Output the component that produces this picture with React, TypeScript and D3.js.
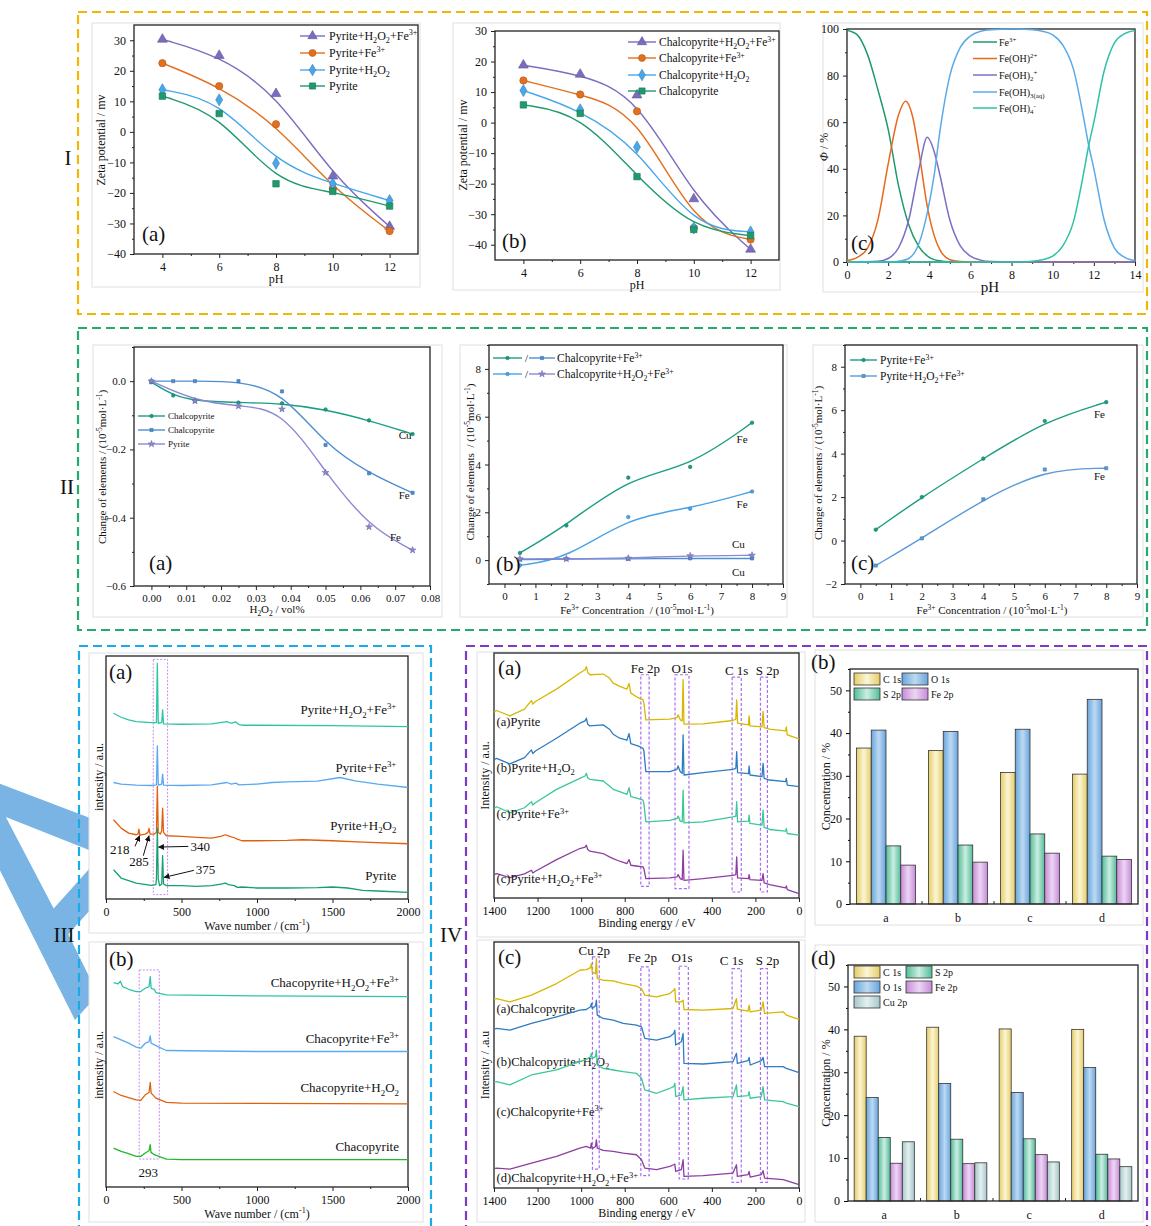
import React, { useEffect, useRef } from 'react';
import * as d3 from 'd3';

type Pt = [number, number];
const SERIF = "'Liberation Serif','Times New Roman',serif";

// ---------- I(a) / I(b): zeta potential vs pH
const phZeta = [4, 6, 8, 10, 12];
const zetaPyH2O2Fe = [30.3, 25, 12.5, -14.5, -31];
const zetaPyFe = [22.5, 15, 2.5, -18.5, -32.5];
const zetaPyH2O2 = [13.8, 10.5, -10.3, -17, -22.5];
const zetaPy = [11.7, 6, -17, -19.5, -24.3];
const zetaCpH2O2Fe = [18.8, 15.8, 9, -25, -41.5];
const zetaCpFe = [13.8, 9.2, 3.7, -34.5, -38.3];
const zetaCpH2O2 = [10.5, 4.2, -8, -34.5, -35.8];
const zetaCp = [5.8, 3, -17.7, -35, -37];

// ---------- I(c): Fe(III) speciation (%)
const specFe3: Pt[] = [[0,99.5],[0.5,97.5],[1,89],[1.5,74],[2,57],[2.5,33],[3,16],[3.5,6.5],[4,2],[4.5,0.5],[5,0.1],[6,0],[14,0]];
const specFeOH: Pt[] = [[0,0.6],[0.5,2],[1,6],[1.5,18],[2,42],[2.5,63],[2.85,69],[3.2,62],[3.5,47],[3.9,24],[4.25,11],[4.5,5.5],[5,1],[5.5,0.2],[6,0],[14,0]];
const specFeOH2: Pt[] = [[0,0],[1.5,0.3],[2,1.5],[2.5,6],[3,18],[3.5,40],[3.9,53.5],[4.25,47],[4.5,38],[5,18],[5.5,7],[6,2.5],[6.5,0.8],[7,0.2],[8,0],[14,0]];
const specFeOH3: Pt[] = [[0,0],[2,0],[2.5,0.3],[3,1.5],[3.5,8],[3.9,21],[4.25,38],[4.5,55],[5,80],[5.5,92],[6,97],[6.5,99],[7,99.7],[8,100],[9,99.7],[9.5,99],[10,97.5],[10.5,93],[11,83],[11.5,62],[11.75,50],[12,40],[12.5,18],[13,6],[13.5,2],[14,0.6]];
const specFeOH4: Pt[] = [[0,0],[8.5,0],[9,0.3],[9.5,1],[10,2.5],[10.5,7],[11,17],[11.5,38],[11.75,50],[12,60],[12.5,82],[13,94],[13.5,98],[14,99.4]];

// ---------- II(a): change of elements vs H2O2 dose
const h2o2Dose = [0, 0.00625, 0.0125, 0.025, 0.0375, 0.05, 0.0625, 0.075];
const cpCuH2O2 = [-0.003, -0.042, -0.058, -0.063, -0.065, -0.083, -0.115, -0.155];
const cpFeH2O2 = [0, 0, 0, 0, -0.03, -0.187, -0.27, -0.327];
const pyDose = [0, 0.0125, 0.025, 0.0375, 0.05, 0.0625, 0.075];
const pyFeH2O2 = [0, -0.058, -0.073, -0.082, -0.268, -0.427, -0.495];

// ---------- II(b), II(c): change of elements vs Fe3+ concentration
const fe3Conc = [0.5, 2, 4, 6, 8];
const cpFeFe = [0.3, 1.45, 3.45, 3.9, 5.75];
const cpFeCu = [0.02, 0.05, 0.05, 0.07, 0.07];
const cpH2O2FeFe = [-0.22, 0.05, 1.8, 2.15, 2.87];
const cpH2O2FeCu = [0.05, 0.05, 0.08, 0.18, 0.2];
const pyFeFe = [0.5, 2.0, 3.77, 5.5, 6.37];
const pyH2O2FeFe = [-1.15, 0.1, 1.9, 3.27, 3.33];

// ---------- III(a): Raman pyrite (wavenumber, counts)
const ramanPy: Pt[] = [[50,88],[100,63],[200,48],[300,41],[330,43],[334,60],[340,213],[346,60],[355,40],[369,45],[375,130],[381,45],[400,40],[500,40],[600,38],[700,40],[760,45],[790,48],[810,43],[850,40],[870,35],[900,36],[1000,33],[1200,33],[1400,34],[1500,36],[1600,33],[1700,26],[1800,24],[2000,20]];
const ramanPyH2O2: Pt[] = [[50,238],[100,213],[150,198],[200,193],[212,195],[218,210],[224,192],[260,195],[278,200],[285,212],[292,195],[320,195],[334,200],[340,338],[346,200],[360,195],[369,205],[375,273],[381,200],[400,190],[500,188],[600,185],[700,183],[760,188],[790,193],[820,188],[850,184],[870,180],[900,175],[1000,175],[1200,176],[1300,178],[1500,175],[1700,171],[2000,166]];
const ramanPyFe: Pt[] = [[50,350],[100,345],[200,342],[300,341],[334,343],[340,460],[346,342],[369,345],[375,375],[381,342],[500,341],[700,343],[800,350],[830,345],[860,348],[880,343],[1000,345],[1100,350],[1200,352],[1400,354],[1550,365],[1650,355],[1800,345],[2000,335]];
const ramanPyH2O2Fe: Pt[] = [[50,558],[100,546],[150,538],[200,533],[300,530],[334,530],[340,708],[346,528],[369,530],[375,568],[381,526],[500,525],[700,526],[800,533],[830,528],[860,532],[880,524],[900,522],[1000,522],[1500,521],[2000,518]];

// ---------- III(b): Raman chalcopyrite
const ramanCp: Pt[] = [[50,117],[100,107],[150,100],[200,92],[230,92],[260,102],[285,109],[293,127],[298,104],[320,97],[350,92],[400,84],[500,82],[1000,82],[2000,82]];
const ramanCpH2O2: Pt[] = [[50,287],[100,275],[200,262],[230,260],[260,277],[285,284],[293,314],[299,282],[330,267],[400,254],[500,252],[2000,250]];
const ramanCpFe: Pt[] = [[50,452],[100,442],[150,432],[200,420],[230,417],[260,432],[285,437],[293,454],[299,432],[350,420],[400,410],[1000,407],[2000,407]];
const ramanCpH2O2Fe: Pt[] = [[50,614],[80,610],[95,618],[110,602],[150,594],[200,587],[230,587],[260,597],[285,602],[293,632],[299,597],[320,594],[330,584],[400,577],[1000,574],[2000,572]];

// ---------- IV(a): XPS survey pyrite (binding energy eV, counts)
const xpsPy: Pt[] = [[1400,556],[1388,561],[1327,545],[1260,565],[1228,591],[1222,580],[1210,588],[1113,625],[1006,673],[982,683],[976,692],[970,676],[960,668],[899,670],[870,658],[853,643],[823,633],[790,625],[780,642],[772,613],[740,600],[716,593],[712,583],[703,533],[593,535],[560,540],[555,548],[545,533],[536,530],[532,653],[528,520],[440,521],[303,531],[290,535],[286,593],[282,523],[232,518],[229,545],[225,515],[170,512],[165,558],[160,510],[135,505],[62,500],[58,512],[54,488],[0,476]];
const xpsPyH2O2: Pt[] = [[1400,413],[1388,418],[1327,401],[1260,420],[1228,443],[1222,432],[1210,440],[1113,478],[1006,523],[982,530],[976,538],[970,520],[960,515],[899,518],[870,505],[853,490],[823,478],[790,472],[780,492],[772,462],[740,455],[716,448],[712,440],[703,378],[593,378],[560,385],[555,395],[545,378],[536,373],[532,488],[528,368],[440,375],[303,385],[290,388],[286,438],[282,375],[232,372],[229,395],[225,368],[170,363],[165,403],[160,358],[135,353],[62,348],[58,358],[54,338],[0,333]];
const xpsPyFe: Pt[] = [[1400,268],[1388,273],[1327,255],[1260,270],[1228,288],[1222,278],[1210,285],[1113,325],[1006,358],[982,365],[976,373],[970,360],[960,355],[899,350],[870,335],[853,325],[823,318],[790,310],[780,330],[772,303],[740,298],[716,293],[712,283],[703,228],[593,232],[560,238],[555,245],[545,230],[536,228],[532,323],[528,225],[440,228],[303,243],[290,245],[286,288],[282,228],[232,230],[229,248],[225,223],[170,218],[165,263],[160,211],[135,205],[62,200],[58,208],[54,193],[0,188]];
const xpsPyH2O2Fe: Pt[] = [[1400,70],[1388,73],[1327,61],[1260,72],[1228,83],[1222,75],[1210,80],[1113,115],[1006,148],[982,152],[976,158],[970,145],[960,140],[899,133],[870,123],[853,118],[823,110],[790,103],[780,115],[772,98],[740,95],[716,93],[712,88],[703,58],[593,60],[560,63],[555,70],[545,58],[536,55],[532,143],[528,53],[440,58],[303,68],[290,70],[286,123],[282,60],[232,58],[229,70],[225,55],[170,53],[165,73],[160,45],[135,40],[62,30],[58,36],[54,25],[0,13]];

// ---------- IV(c): XPS survey chalcopyrite
const xpsCp: Pt[] = [[1400,568],[1388,570],[1327,560],[1228,580],[1113,615],[1006,655],[976,657],[957,663],[953,675],[949,650],[934,645],[930,690],[926,630],[899,625],[853,623],[807,615],[746,607],[723,600],[708,580],[654,575],[593,585],[575,595],[570,600],[566,560],[540,560],[532,565],[528,537],[440,535],[303,540],[287,570],[283,538],[234,532],[229,550],[224,530],[173,535],[165,560],[158,525],[73,530],[58,520],[0,507]];
const xpsCpH2O2: Pt[] = [[1400,478],[1388,480],[1327,475],[1228,495],[1113,515],[1006,535],[976,537],[957,545],[953,555],[949,540],[934,548],[930,565],[926,520],[899,510],[853,505],[807,495],[746,490],[723,485],[708,450],[654,445],[593,455],[575,465],[570,475],[566,430],[540,440],[532,465],[528,375],[440,373],[303,380],[287,405],[283,375],[234,383],[229,393],[224,370],[173,383],[165,393],[158,365],[73,365],[58,360],[0,347]];
const xpsCpFe: Pt[] = [[1400,318],[1388,320],[1327,310],[1228,340],[1113,355],[1006,380],[976,387],[957,395],[953,405],[949,390],[934,395],[930,415],[926,370],[899,360],[853,355],[807,350],[746,345],[723,330],[708,295],[654,285],[593,300],[575,305],[570,315],[566,275],[540,280],[532,305],[528,265],[440,270],[303,275],[287,310],[283,275],[234,278],[229,290],[224,270],[173,275],[165,305],[158,265],[73,260],[58,255],[0,245]];
const xpsCpH2O2Fe: Pt[] = [[1400,58],[1388,60],[1327,57],[1228,75],[1113,95],[1006,120],[976,125],[957,120],[953,135],[949,118],[934,125],[930,145],[926,120],[899,113],[853,110],[807,105],[746,100],[723,85],[708,60],[654,55],[593,65],[575,70],[570,72],[566,50],[540,55],[532,85],[528,35],[440,37],[303,45],[287,70],[283,35],[234,40],[229,50],[224,33],[173,40],[165,52],[158,30],[73,25],[58,22],[0,10]];

// ---------- IV(b), IV(d): surface concentration (%)
const xpsSamples = ['a', 'b', 'c', 'd'];
const pyC1s = [36.5, 35.9, 30.8, 30.4];
const pyO1s = [40.7, 40.4, 40.9, 47.9];
const pyS2p = [13.6, 13.8, 16.4, 11.2];
const pyFe2p = [9.1, 9.8, 11.9, 10.4];
const cpC1s = [38.4, 40.5, 40.1, 40.0];
const cpO1s = [24.1, 27.4, 25.3, 31.1];
const cpS2p = [14.8, 14.4, 14.5, 10.9];
const cpFe2p = [8.8, 8.7, 10.8, 9.8];
const cpCu2p = [13.8, 8.9, 9.1, 8.0];

const barFill: any = {
  C1s: ['#e6cc66', '#fbf6d6'],
  O1s: ['#6aa4dc', '#bcdaf2'],
  S2p: ['#52bc98', '#cdeee2'],
  Fe2p: ['#c58bd8', '#eed6f4'],
  Cu2p: ['#a6c6c8', '#e4f0f0'],
};

// watermark glyph outline (em units), drawn as a decorative shape
const wmOuter: Pt[] = [[0,0],[0.28,-0.716],[0.39,-0.716],[0.667,0],[0.56,0],[0.48,-0.2],[0.19,-0.2],[0.11,0]];
const wmInner: Pt[] = [[0.22,-0.29],[0.335,-0.6],[0.45,-0.29]];

function rich(sel: any, str: string, fs: number) {
  const parts = str.split(/(_\{[^}]*\}|\^\{[^}]*\})/).filter((s) => s.length);
  let cur = 0;
  for (const p of parts) {
    let t = p, target = 0, small = false;
    if (p.startsWith('_{')) { t = p.slice(2, -1); target = fs * 0.28; small = true; }
    else if (p.startsWith('^{')) { t = p.slice(2, -1); target = -fs * 0.38; small = true; }
    const ts = sel.append('tspan').text(t);
    if (target - cur !== 0) ts.attr('dy', target - cur);
    if (small) ts.attr('font-size', fs * 0.68);
    cur = target;
  }
  return sel;
}

function txt(g: any, x: number, y: number, str: string, fs: number, anchor = 'start', rot = 0) {
  const t = g.append('text').attr('font-family', SERIF).attr('font-size', fs).attr('fill', '#111')
    .attr('text-anchor', anchor).style('white-space', 'pre');
  if (rot) t.attr('transform', `translate(${x},${y}) rotate(${rot})`);
  else t.attr('x', x).attr('y', y);
  return rich(t, str, fs);
}

function panel(svg: any, box: number[], plot: number[], xDom: number[], yDom: number[]) {
  svg.append('rect').attr('x', box[0]).attr('y', box[1]).attr('width', box[2] - box[0]).attr('height', box[3] - box[1])
    .attr('fill', '#fff').attr('stroke', '#e0e0e0').attr('stroke-width', 1);
  const x = d3.scaleLinear().domain(xDom).range([plot[0], plot[2]]);
  const y = d3.scaleLinear().domain(yDom).range([plot[3], plot[1]]);
  return { g: svg.append('g'), x, y };
}

function axes(g: any, x: any, y: any, o: any) {
  const fs = o.fs || 12;
  const [yb, yt] = y.range();
  const [xl, xr] = x.range();
  const style = (s: any) => {
    s.select('.domain').remove();
    s.selectAll('line').attr('stroke', '#222');
    s.selectAll('text').attr('font-family', SERIF).attr('font-size', fs).attr('fill', '#111');
  };
  g.append('g').attr('transform', `translate(0,${yb})`)
    .call(d3.axisBottom(x).tickValues(o.xt).tickSize(4).tickPadding(4).tickFormat(o.xf || d3.format('d'))).call(style);
  if (o.xm) g.append('g').attr('transform', `translate(0,${yb})`)
    .call(d3.axisBottom(x).tickValues(o.xm).tickSize(2).tickFormat(() => '')).call(style);
  if (o.yt) g.append('g').attr('transform', `translate(${xl},0)`)
    .call(d3.axisLeft(y).tickValues(o.yt).tickSize(4).tickPadding(4).tickFormat(o.yf || d3.format('d'))).call(style);
  if (o.ym) g.append('g').attr('transform', `translate(${xl},0)`)
    .call(d3.axisLeft(y).tickValues(o.ym).tickSize(2).tickFormat(() => '')).call(style);
  g.append('rect').attr('x', xl).attr('y', yt).attr('width', xr - xl).attr('height', yb - yt)
    .attr('fill', 'none').attr('stroke', '#222').attr('stroke-width', 1.3);
}

const SYM: any = { tri: d3.symbolTriangle, circ: d3.symbolCircle, dia: d3.symbolDiamond, sq: d3.symbolSquare, star: d3.symbolStar };
function mark(g: any, type: string, cx: number, cy: number, color: string, size: number) {
  g.append('path').attr('d', d3.symbol().type(SYM[type]).size(size)())
    .attr('transform', `translate(${cx},${cy})`).attr('fill', color)
    .attr('stroke', (d3.color(color) as any).darker(0.7).toString()).attr('stroke-width', 0.6);
}

function curve(g: any, x: any, y: any, pts: Pt[], color: string, w: number, c: any) {
  g.append('path').datum(pts)
    .attr('d', d3.line<Pt>().x((d) => x(d[0])).y((d) => y(d[1])).curve(c))
    .attr('fill', 'none').attr('stroke', color).attr('stroke-width', w).attr('stroke-linejoin', 'round');
}

function zip(xs: number[], ys: number[]): Pt[] { return xs.map((v, i) => [v, ys[i]]); }

function draw(svg: any) {
  const defs = svg.append('defs');
  Object.keys(barFill).forEach((k) => {
    const lg = defs.append('linearGradient').attr('id', `bf-${k}`).attr('x1', 0).attr('x2', 1).attr('y1', 0).attr('y2', 0);
    lg.append('stop').attr('offset', '0%').attr('stop-color', barFill[k][0]);
    lg.append('stop').attr('offset', '50%').attr('stop-color', barFill[k][1]);
    lg.append('stop').attr('offset', '100%').attr('stop-color', barFill[k][0]);
  });
  defs.append('marker').attr('id', 'arr').attr('viewBox', '0 0 10 10').attr('refX', 9).attr('refY', 5)
    .attr('markerWidth', 6).attr('markerHeight', 6).attr('orient', 'auto')
    .append('path').attr('d', 'M0,0L10,5L0,10z').attr('fill', '#111');

  svg.append('rect').attr('width', 1151).attr('height', 1226).attr('fill', '#fff');
  // watermark letter in the bottom-left margin
  const em = d3.scaleLinear().domain([0, 1]).range([0, 312]);
  const ring = (pts: Pt[]) => 'M' + pts.map((p) => `${em(p[0])},${em(p[1])}`).join('L') + 'Z';
  svg.append('path').attr('d', ring(wmOuter) + ring(wmInner)).attr('fill-rule', 'evenodd')
    .attr('transform', 'translate(75,1020) rotate(-48)').attr('fill', '#7ab4e4');

  // ================= I(a)
  {
    const { g, x, y } = panel(svg, [92, 23, 420, 287], [134, 25, 418, 254], [3, 13], [-40, 35]);
    axes(g, x, y, { xt: [4, 6, 8, 10, 12], xm: [5, 7, 9, 11], yt: d3.range(-40, 31, 10), ym: d3.range(-35, 35, 10) });
    const ser = [
      { v: zetaPyH2O2Fe, c: '#7b6cc0', m: 'tri', l: 'Pyrite+H_{2}O_{2}+Fe^{3+}' },
      { v: zetaPyFe, c: '#e2701e', m: 'circ', l: 'Pyrite+Fe^{3+}' },
      { v: zetaPyH2O2, c: '#48a6ea', m: 'dia', l: 'Pyrite+H_{2}O_{2}' },
      { v: zetaPy, c: '#1f9a6c', m: 'sq', l: 'Pyrite' },
    ];
    const ly = [36, 53, 70, 86];
    ser.forEach((s, i) => {
      curve(g, x, y, zip(phZeta, s.v), s.c, 1.4, d3.curveBasis);
      zip(phZeta, s.v).forEach((d) => mark(g, s.m, x(d[0]), y(d[1]), s.c, 42));
      g.append('line').attr('x1', 300).attr('x2', 325).attr('y1', ly[i]).attr('y2', ly[i]).attr('stroke', s.c).attr('stroke-width', 1.4);
      mark(g, s.m, 312.5, ly[i], s.c, 38);
      txt(g, 329, ly[i] + 4, s.l, 12);
    });
    txt(g, 142, 241, '(a)', 21);
    txt(g, 105, 140, 'Zeta potential / mv', 12, 'middle', -90);
    txt(g, 276, 283, 'pH', 12, 'middle');
  }

  // ================= I(b)
  {
    const { g, x, y } = panel(svg, [453, 23, 780, 290], [495, 31, 779, 260], [3, 13], [-45, 30]);
    axes(g, x, y, { xt: [4, 6, 8, 10, 12], xm: [5, 7, 9, 11], yt: d3.range(-40, 31, 10), ym: d3.range(-35, 30, 10) });
    const ser = [
      { v: zetaCpH2O2Fe, c: '#7b6cc0', m: 'tri', l: 'Chalcopyrite+H_{2}O_{2}+Fe^{3+}' },
      { v: zetaCpFe, c: '#e2701e', m: 'circ', l: 'Chalcopyrite+Fe^{3+}' },
      { v: zetaCpH2O2, c: '#48a6ea', m: 'dia', l: 'Chalcopyrite+H_{2}O_{2}' },
      { v: zetaCp, c: '#1f9a6c', m: 'sq', l: 'Chalcopyrite' },
    ];
    const ly = [42, 58, 75, 91];
    ser.forEach((s, i) => {
      curve(g, x, y, zip(phZeta, s.v), s.c, 1.4, d3.curveBasis);
      zip(phZeta, s.v).forEach((d) => mark(g, s.m, x(d[0]), y(d[1]), s.c, 42));
      g.append('line').attr('x1', 628).attr('x2', 656).attr('y1', ly[i]).attr('y2', ly[i]).attr('stroke', s.c).attr('stroke-width', 1.4);
      mark(g, s.m, 642, ly[i], s.c, 38);
      txt(g, 659, ly[i] + 4, s.l, 11.5);
    });
    txt(g, 502, 248, '(b)', 21);
    txt(g, 467, 145, 'Zeta potential / mv', 12, 'middle', -90);
    txt(g, 637, 289, 'pH', 12, 'middle');
  }

  // ================= I(c)
  {
    const { g, x, y } = panel(svg, [823, 23, 1143, 292], [847, 29, 1135, 262], [0, 14], [0, 100]);
    axes(g, x, y, { xt: d3.range(0, 15, 2), xm: d3.range(1, 14, 2), yt: d3.range(0, 101, 20), ym: d3.range(10, 100, 20) });
    const ser = [
      { d: specFe3, c: '#1f9a6c', l: 'Fe^{3+}' },
      { d: specFeOH, c: '#e8681c', l: 'Fe(OH)^{2+}' },
      { d: specFeOH2, c: '#7a70c4', l: 'Fe(OH)_{2}^{+}' },
      { d: specFeOH3, c: '#5aaaea', l: 'Fe(OH)_{3(aq)}' },
      { d: specFeOH4, c: '#2ec2a8', l: 'Fe(OH)_{4}^{-}' },
    ];
    const ly = [42, 58.5, 75, 92, 108];
    ser.forEach((s, i) => {
      curve(g, x, y, s.d, s.c, 1.5, d3.curveMonotoneX);
      g.append('line').attr('x1', 973).attr('x2', 997).attr('y1', ly[i]).attr('y2', ly[i]).attr('stroke', s.c).attr('stroke-width', 1.5);
      txt(g, 999, ly[i] + 3.5, s.l, 10);
    });
    txt(g, 851, 250, '(c)', 21);
    const t = g.append('text').attr('transform', 'translate(828,147) rotate(-90)').attr('text-anchor', 'middle')
      .attr('font-family', SERIF).attr('font-size', 12).attr('fill', '#111');
    t.append('tspan').attr('font-style', 'italic').text('Φ');
    t.append('tspan').text(' / %');
    txt(g, 990, 292, 'pH', 15, 'middle');
  }

  // ================= II(a)
  {
    const { g, x, y } = panel(svg, [93, 345, 442, 617], [134, 347, 430, 586], [-0.005, 0.08], [-0.6, 0.1]);
    axes(g, x, y, { xt: d3.range(0, 0.0801, 0.01), xf: d3.format('.2f'), xm: d3.range(0.005, 0.08, 0.01),
      yt: [-0.6, -0.4, -0.2, 0], yf: d3.format('.1f'), ym: [-0.5, -0.3, -0.1, 0.1], fs: 11 });
    const ser = [
      { d: zip(h2o2Dose, cpCuH2O2), c: '#1a9e82', m: 'circ', s: 10, l: 'Chalcopyrite' },
      { d: zip(h2o2Dose, cpFeH2O2), c: '#4e8fd0', m: 'sq', s: 10, l: 'Chalcopyrite' },
      { d: zip(pyDose, pyFeH2O2), c: '#8c88d4', m: 'star', s: 14, l: 'Pyrite' },
    ];
    const ly = [416, 430, 444];
    ser.forEach((s, i) => {
      curve(g, x, y, s.d, s.c, 1.4, d3.curveBasis);
      s.d.forEach((d) => mark(g, s.m, x(d[0]), y(d[1]), s.c, s.s));
      g.append('line').attr('x1', 138).attr('x2', 165).attr('y1', ly[i]).attr('y2', ly[i]).attr('stroke', s.c).attr('stroke-width', 1.4);
      mark(g, s.m, 151.5, ly[i], s.c, s.s);
      txt(g, 168, ly[i] + 3, s.l, 9);
    });
    txt(g, x(0.071), y(-0.17), 'Cu', 11);
    txt(g, x(0.071), y(-0.345), 'Fe', 11);
    txt(g, x(0.0685), y(-0.468), 'Fe', 11);
    txt(g, 149, 570, '(a)', 21);
    txt(g, 106, 467, 'Change of elements / (10^{-5}mol·L^{-1})', 11, 'middle', -90);
    txt(g, 277, 613, 'H_{2}O_{2} / vol%', 11, 'middle');
  }

  // ================= II(b)
  {
    const { g, x, y } = panel(svg, [460, 345, 787, 617], [489, 345, 783, 584], [-0.5, 9], [-1, 9]);
    axes(g, x, y, { xt: d3.range(0, 10), xm: d3.range(0.5, 9, 1), yt: [0, 2, 4, 6, 8], ym: [-1, 1, 3, 5, 7, 9], fs: 11 });
    const teal = '#1a9e82', blueSq = '#4e8fd0', lblue = '#4aa3e6', lav = '#8c88d4';
    const ser = [
      { d: zip(fe3Conc, cpFeFe), c: teal, m: 'circ', s: 10 },
      { d: zip(fe3Conc, cpH2O2FeFe), c: lblue, m: 'circ', s: 10 },
      { d: zip(fe3Conc, cpFeCu), c: blueSq, m: 'sq', s: 10 },
      { d: zip(fe3Conc, cpH2O2FeCu), c: lav, m: 'star', s: 14 },
    ];
    ser.forEach((s) => {
      curve(g, x, y, s.d, s.c, 1.4, d3.curveBasis);
      s.d.forEach((d) => mark(g, s.m, x(d[0]), y(d[1]), s.c, s.s));
    });
    const leg = [
      { a: teal, am: 'circ', b: blueSq, bm: 'sq', l: 'Chalcopyrite+Fe^{3+}', y: 358 },
      { a: lblue, am: 'circ', b: lav, bm: 'star', l: 'Chalcopyrite+H_{2}O_{2}+Fe^{3+}', y: 374 },
    ];
    leg.forEach((r) => {
      g.append('line').attr('x1', 493).attr('x2', 522).attr('y1', r.y).attr('y2', r.y).attr('stroke', r.a).attr('stroke-width', 1.4);
      mark(g, r.am, 507.5, r.y, r.a, 10);
      txt(g, 525, r.y + 4, '/', 11);
      g.append('line').attr('x1', 529).attr('x2', 555).attr('y1', r.y).attr('y2', r.y).attr('stroke', r.b).attr('stroke-width', 1.4);
      mark(g, r.bm, 542, r.y, r.b, r.bm === 'star' ? 14 : 10);
      txt(g, 557, r.y + 4, r.l, 11.5);
    });
    txt(g, x(7.5), y(4.9), 'Fe', 11);
    txt(g, x(7.5), y(2.2), 'Fe', 11);
    txt(g, x(7.35), y(0.5), 'Cu', 11);
    txt(g, x(7.35), y(-0.65), 'Cu', 11);
    txt(g, 496, 571, '(b)', 21);
    txt(g, 474, 462, 'Change of elements  / (10^{-5}mol·L^{-1})', 11, 'middle', -90);
    txt(g, 637, 614, 'Fe^{3+} Concentration  / (10^{-5}mol·L^{-1})', 11, 'middle');
  }

  // ================= II(c)
  {
    const { g, x, y } = panel(svg, [813, 345, 1143, 617], [845, 345, 1137, 584], [-0.5, 9], [-2, 9]);
    axes(g, x, y, { xt: d3.range(0, 10), xm: d3.range(0.5, 9, 1), yt: [-2, 0, 2, 4, 6, 8], ym: [-1, 1, 3, 5, 7, 9], fs: 11 });
    const ser = [
      { d: zip(fe3Conc, pyFeFe), c: '#1a9e82', m: 'circ', l: 'Pyrite+Fe^{3+}', y: 360 },
      { d: zip(fe3Conc, pyH2O2FeFe), c: '#5a9ad8', m: 'sq', l: 'Pyrite+H_{2}O_{2}+Fe^{3+}', y: 376 },
    ];
    ser.forEach((s) => {
      curve(g, x, y, s.d, s.c, 1.4, d3.curveBasis);
      s.d.forEach((d) => mark(g, s.m, x(d[0]), y(d[1]), s.c, 10));
      g.append('line').attr('x1', 850).attr('x2', 877).attr('y1', s.y).attr('y2', s.y).attr('stroke', s.c).attr('stroke-width', 1.4);
      mark(g, s.m, 863.5, s.y, s.c, 10);
      txt(g, 880, s.y + 4, s.l, 11.5);
    });
    txt(g, x(7.6), y(5.65), 'Fe', 11);
    txt(g, x(7.6), y(2.8), 'Fe', 11);
    txt(g, 851, 570, '(c)', 21);
    txt(g, 822, 463, 'Change of elements / (10^{-5}mol·L^{-1})', 11, 'middle', -90);
    txt(g, 992, 614, 'Fe^{3+} Concentration / (10^{-5}mol·L^{-1})', 11, 'middle');
  }

  // ================= III(a)
  {
    const { g, x, y } = panel(svg, [89, 653, 423, 933], [106, 656, 408, 899], [0, 2000], [0, 730]);
    axes(g, x, y, { xt: [0, 500, 1000, 1500, 2000], xm: [250, 750, 1250, 1750] });
    g.append('rect').attr('x', x(313)).attr('y', y(720)).attr('width', x(408) - x(313)).attr('height', y(13) - y(720))
      .attr('fill', 'none').attr('stroke', '#c58cf0').attr('stroke-width', 1).attr('stroke-dasharray', '2,1.5');
    const ser = [
      { d: ramanPyH2O2Fe, c: '#2ec4a4', l: 'Pyrite+H_{2}O_{2}+Fe^{3+}', ly: 556 },
      { d: ramanPyFe, c: '#5aa8f0', l: 'Pyrite+Fe^{3+}', ly: 383 },
      { d: ramanPyH2O2, c: '#e0600e', l: 'Pyrite+H_{2}O_{2}', ly: 208 },
      { d: ramanPy, c: '#16a070', l: 'Pyrite', ly: 56 },
    ];
    ser.forEach((s) => {
      curve(g, x, y, s.d, s.c, 1.3, d3.curveLinear);
      txt(g, x(1923), y(s.ly), s.l, 13, 'end');
    });
    const arrows = [
      { f: [192, 158], t: [222, 190] }, { f: [247, 130], t: [285, 190] },
      { f: [545, 158], t: [348, 156] }, { f: [582, 86], t: [385, 65] },
    ];
    arrows.forEach((a) => g.append('line').attr('x1', x(a.f[0])).attr('y1', y(a.f[1])).attr('x2', x(a.t[0])).attr('y2', y(a.t[1]))
      .attr('stroke', '#111').attr('stroke-width', 1).attr('marker-end', 'url(#arr)'));
    txt(g, x(26), y(136), '218', 13);
    txt(g, x(154), y(100), '285', 13);
    txt(g, x(560), y(143), '340', 13);
    txt(g, x(595), y(76), '375', 13);
    txt(g, 109, 679, '(a)', 21);
    txt(g, 103, 777, 'intensity / a.u.', 12, 'middle', -90);
    txt(g, 257, 930, 'Wave number / (cm^{-1})', 12, 'middle');
  }

  // ================= III(b)
  {
    const { g, x, y } = panel(svg, [89, 942, 423, 1222], [106, 944, 408, 1187], [0, 2000], [0, 730]);
    axes(g, x, y, { xt: [0, 500, 1000, 1500, 2000], xm: [250, 750, 1250, 1750] });
    g.append('rect').attr('x', x(220)).attr('y', y(652)).attr('width', x(353) - x(220)).attr('height', y(84) - y(652))
      .attr('fill', 'none').attr('stroke', '#c58cf0').attr('stroke-width', 1).attr('stroke-dasharray', '2,1.5');
    const ser = [
      { d: ramanCpH2O2Fe, c: '#30c2ac', l: 'Chacopyrite+H_{2}O_{2}+Fe^{3+}', ly: 600 },
      { d: ramanCpFe, c: '#5aaaf0', l: 'Chacopyrite+Fe^{3+}', ly: 432 },
      { d: ramanCpH2O2, c: '#e0600e', l: 'Chacopyrite+H_{2}O_{2}', ly: 284 },
      { d: ramanCp, c: '#22b82c', l: 'Chacopyrite', ly: 107 },
    ];
    ser.forEach((s) => {
      curve(g, x, y, s.d, s.c, 1.3, d3.curveLinear);
      txt(g, x(1940), y(s.ly), s.l, 13, 'end');
    });
    txt(g, x(280), y(30), '293', 13, 'middle');
    txt(g, 109, 966, '(b)', 21);
    txt(g, 103, 1065, 'intensity / a.u.', 12, 'middle', -90);
    txt(g, 257, 1218, 'Wave number / (cm^{-1})', 12, 'middle');
  }

  // ================= IV(a), IV(c) XPS survey
  const xpsColors = ['#d6b800', '#2f7cc0', '#3cc896', '#8c3fa0'];
  const xpsPanel = (box: number[], plot: number[], yMax: number, data: Pt[][], labels: string[], lys: number[],
    rects: number[][], peaks: any[], tag: string, yTitle: string) => {
    const { g, x, y } = panel(svg, box, plot, [1400, 0], [0, yMax]);
    axes(g, x, y, { xt: d3.range(1400, -1, -200) });
    rects.forEach((r) => g.append('rect').attr('x', x(r[0])).attr('y', y(r[3])).attr('width', x(r[1]) - x(r[0]))
      .attr('height', y(r[2]) - y(r[3])).attr('fill', 'none').attr('stroke', '#a86cf4').attr('stroke-width', 1.2).attr('stroke-dasharray', '3,2'));
    data.forEach((d, i) => {
      curve(g, x, y, d, xpsColors[i], 1.3, d3.curveLinear);
      txt(g, x(1388), y(lys[i]), labels[i], 12.5);
    });
    peaks.forEach((p) => txt(g, x(p[1]), y(p[2]), p[0], 13, 'middle'));
    txt(g, plot[0] + 4, plot[1] + 22, tag, 21);
    txt(g, 489, (plot[1] + plot[3]) / 2, yTitle, 12, 'middle', -90);
    txt(g, 647, plot[3] + 29, 'Binding energy / eV', 12, 'middle');
  };
  xpsPanel([477, 652, 805, 937], [494, 653, 799, 898], 733,
    [xpsPy, xpsPyH2O2, xpsPyFe, xpsPyH2O2Fe],
    ['(a)Pyrite', '(b)Pyrite+H_{2}O_{2}', '(c)Pyrite+Fe^{3+}', '(c)Pyrite+H_{2}O_{2}+Fe^{3+}'], [515, 378, 238, 45],
    [[726, 688, 35, 668], [569, 505, 28, 668], [307, 265, 18, 661], [177, 145, 18, 661]],
    [['Fe 2p', 705, 673], ['O1s', 537, 673], ['C 1s', 286, 668], ['S 2p', 145, 668]], '(a)', 'Intensity / a.u.');
  xpsPanel([477, 940, 805, 1222], [494, 942, 799, 1188], 740,
    [xpsCp, xpsCpH2O2, xpsCpFe, xpsCpH2O2Fe],
    ['(a)Chalcopyrite', '(b)Chalcopyrite+H_{2}O_{2}', '(c)Chalcopyrite+Fe^{3+}', '(d)Chalcopyrite+H_{2}O_{2}+Fe^{3+}'], [525, 367, 217, 17],
    [[948, 917, 57, 695], [726, 688, 37, 665], [550, 508, 27, 667], [307, 265, 17, 660], [177, 145, 17, 660]],
    [['Cu 2p', 940, 700], ['Fe 2p', 719, 680], ['O1s', 537, 680], ['C 1s', 310, 670], ['S 2p', 145, 670]], '(c)', 'Intensity / .a.u');

  // ================= IV(b), IV(d) bars
  const barPanel = (box: number[], plot: number[], keys: string[], vals: number[][], pIn: number,
    legend: any[], tag: string, tagY: number) => {
    const { g, y } = panel(svg, box, plot, [0, 1], [0, 55]);
    const x0 = d3.scaleBand().domain(xpsSamples).range([plot[0], plot[2]]).paddingInner(pIn).paddingOuter(pIn / 2);
    const x1 = d3.scaleBand().domain(keys).range([0, x0.bandwidth()]);
    keys.forEach((k, j) => {
      g.selectAll(null).data(vals[j]).join('rect')
        .attr('x', (_d: number, i: number) => (x0(xpsSamples[i]) as number) + (x1(k) as number))
        .attr('y', (d: number) => y(d)).attr('width', x1.bandwidth()).attr('height', (d: number) => y(0) - y(d))
        .attr('fill', `url(#bf-${k})`).attr('stroke', '#333').attr('stroke-width', 0.8);
    });
    const fs = 12;
    const ax = g.append('g').attr('transform', `translate(0,${plot[3]})`).call(d3.axisBottom(x0).tickSize(0).tickPadding(9));
    ax.select('.domain').remove();
    ax.selectAll('text').attr('font-family', SERIF).attr('font-size', fs).attr('fill', '#111');
    const step = x0.step();
    xpsSamples.slice(1).forEach((s) => {
      const bx = (x0(s) as number) - (step - x0.bandwidth()) / 2;
      g.append('line').attr('x1', bx).attr('x2', bx).attr('y1', plot[3]).attr('y2', plot[3] - 3).attr('stroke', '#222');
    });
    const ya = g.append('g').attr('transform', `translate(${plot[0]},0)`)
      .call(d3.axisLeft(y).tickValues(d3.range(0, 51, 10)).tickSize(4).tickPadding(4).tickFormat(d3.format('d')));
    const ym = g.append('g').attr('transform', `translate(${plot[0]},0)`)
      .call(d3.axisLeft(y).tickValues(d3.range(5, 56, 10)).tickSize(2).tickFormat(() => ''));
    [ya, ym].forEach((s) => { s.select('.domain').remove(); s.selectAll('text').attr('font-family', SERIF).attr('font-size', fs).attr('fill', '#111'); });
    g.append('rect').attr('x', plot[0]).attr('y', plot[1]).attr('width', plot[2] - plot[0]).attr('height', plot[3] - plot[1])
      .attr('fill', 'none').attr('stroke', '#222').attr('stroke-width', 1.3);
    legend.forEach((l) => {
      g.append('rect').attr('x', l[1]).attr('y', l[2]).attr('width', 26).attr('height', 12)
        .attr('fill', `url(#bf-${l[0]})`).attr('stroke', '#333').attr('stroke-width', 0.8);
      txt(g, l[1] + 29, l[2] + 10, l[0].replace('1s', ' 1s').replace('2p', ' 2p'), 10);
    });
    txt(g, 811, tagY, tag, 21);
    txt(g, 830, (plot[1] + plot[3]) / 2, 'Concentration / %', 12, 'middle', -90);
  };
  barPanel([815, 650, 1143, 925], [850, 669, 1138, 904], ['C1s', 'O1s', 'S2p', 'Fe2p'],
    [pyC1s, pyO1s, pyS2p, pyFe2p], 0.18,
    [['C1s', 854, 673], ['O1s', 902, 673], ['S2p', 854, 688], ['Fe2p', 902, 688]], '(b)', 669);
  barPanel([815, 945, 1143, 1222], [848, 965, 1138, 1201], ['C1s', 'O1s', 'S2p', 'Fe2p', 'Cu2p'],
    [cpC1s, cpO1s, cpS2p, cpFe2p, cpCu2p], 0.17,
    [['C1s', 854, 966], ['S2p', 906, 966], ['O1s', 854, 981], ['Fe2p', 906, 981], ['Cu2p', 854, 996]], '(d)', 965);

  // ================= section frames
  const secs = [
    { r: [78, 12, 1069, 302], c: '#f2b705' },
    { r: [78, 328, 1069, 302], c: '#26a96c' },
    { r: [79, 646, 352, 600], c: '#1aaaea' },
    { r: [466, 646, 681, 600], c: '#7a3cc4' },
  ];
  secs.forEach((s) => svg.append('rect').attr('x', s.r[0]).attr('y', s.r[1]).attr('width', s.r[2]).attr('height', s.r[3])
    .attr('fill', 'none').attr('stroke', s.c).attr('stroke-width', 2.2).attr('stroke-dasharray', '9,5'));
  txt(svg, 68, 165, 'I', 21, 'middle');
  txt(svg, 67, 494, 'II', 21, 'middle');
  txt(svg, 64, 942, 'III', 21, 'middle');
  txt(svg, 451, 942, 'IV', 21, 'middle');
}

export default function App() {
  const ref = useRef<SVGSVGElement>(null);
  useEffect(() => {
    const svg = d3.select(ref.current);
    svg.selectAll('*').remove();
    draw(svg);
  }, []);
  return (
    <svg ref={ref} width={1151} height={1226} style={{ position: 'absolute', left: 0, top: 0, background: '#fff' }} />
  );
}
